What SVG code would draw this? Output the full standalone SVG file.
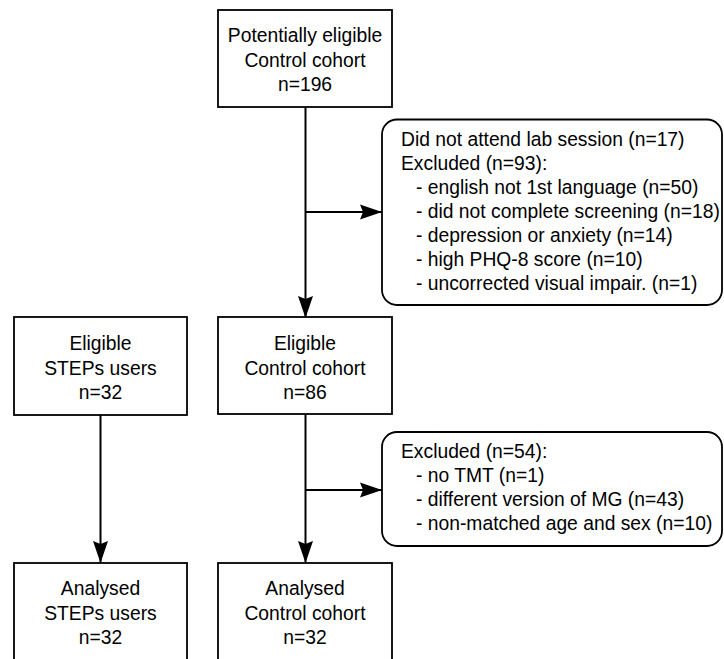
<svg xmlns="http://www.w3.org/2000/svg" width="724" height="659" viewBox="0 0 724 659">
<style>
  .box { fill: #ffffff; stroke: #000000; stroke-width: 1.8; }
  .edge { fill: none; stroke: #000000; stroke-width: 2; }
  text { font-family: "Liberation Sans", Arial, Helvetica, sans-serif; font-size: 19.3px; fill: #000000; }
  .c { text-anchor: middle; }
</style>
<defs>
  <marker id="arrow" markerUnits="userSpaceOnUse" markerWidth="22" markerHeight="16" refX="22" refY="8" orient="auto" viewBox="0 0 22 16">
    <path d="M0,0.5 L22,8 L0,15.5 L3,8 Z" fill="#000000"/>
  </marker>
</defs>
<rect width="724" height="659" fill="#ffffff"/>

<g id="connectors">
  <line class="edge" x1="305.5" y1="107" x2="305.5" y2="318" marker-end="url(#arrow)"/>
  <line class="edge" x1="305.5" y1="212" x2="382" y2="212" marker-end="url(#arrow)"/>
  <line class="edge" x1="305.5" y1="414" x2="305.5" y2="563" marker-end="url(#arrow)"/>
  <line class="edge" x1="305.5" y1="490" x2="382" y2="490" marker-end="url(#arrow)"/>
  <line class="edge" x1="100.5" y1="415" x2="100.5" y2="563" marker-end="url(#arrow)"/>
</g>

<g id="potential-control">
  <rect class="box" x="218" y="10" width="174" height="97"/>
  <text class="c" x="305" y="42">Potentially eligible</text>
  <text class="c" x="305" y="66.5">Control cohort</text>
  <text class="c" x="305" y="91">n=196</text>
</g>

<g id="excluded-1">
  <rect class="box" x="382" y="119.5" width="340" height="185.5" rx="15" ry="15"/>
  <text x="401" y="146">Did not attend lab session (n=17)</text>
  <text x="401" y="170">Excluded (n=93):</text>
  <text x="416" y="194">- english not 1st language (n=50)</text>
  <text x="416" y="218">- did not complete screening (n=18)</text>
  <text x="416" y="242">- depression or anxiety (n=14)</text>
  <text x="416" y="266">- high PHQ-8 score (n=10)</text>
  <text x="416" y="290">- uncorrected visual impair. (n=1)</text>
</g>

<g id="eligible-steps">
  <rect class="box" x="14" y="317" width="173" height="98"/>
  <text class="c" x="100.5" y="350">Eligible</text>
  <text class="c" x="100.5" y="374.5">STEPs users</text>
  <text class="c" x="100.5" y="399">n=32</text>
</g>

<g id="eligible-control">
  <rect class="box" x="218" y="317" width="174" height="97"/>
  <text class="c" x="305" y="350">Eligible</text>
  <text class="c" x="305" y="374.5">Control cohort</text>
  <text class="c" x="305" y="399">n=86</text>
</g>

<g id="excluded-2">
  <rect class="box" x="382" y="432" width="340" height="114" rx="15" ry="15"/>
  <text x="401" y="458">Excluded (n=54):</text>
  <text x="416" y="482">- no TMT (n=1)</text>
  <text x="416" y="506">- different version of MG (n=43)</text>
  <text x="416" y="530">- non-matched age and sex (n=10)</text>
</g>

<g id="analysed-steps">
  <rect class="box" x="14" y="563" width="173" height="97"/>
  <text class="c" x="100.5" y="595">Analysed</text>
  <text class="c" x="100.5" y="620">STEPs users</text>
  <text class="c" x="100.5" y="644">n=32</text>
</g>

<g id="analysed-control">
  <rect class="box" x="218" y="563" width="174" height="97"/>
  <text class="c" x="305" y="595">Analysed</text>
  <text class="c" x="305" y="620">Control cohort</text>
  <text class="c" x="305" y="644">n=32</text>
</g>
</svg>
